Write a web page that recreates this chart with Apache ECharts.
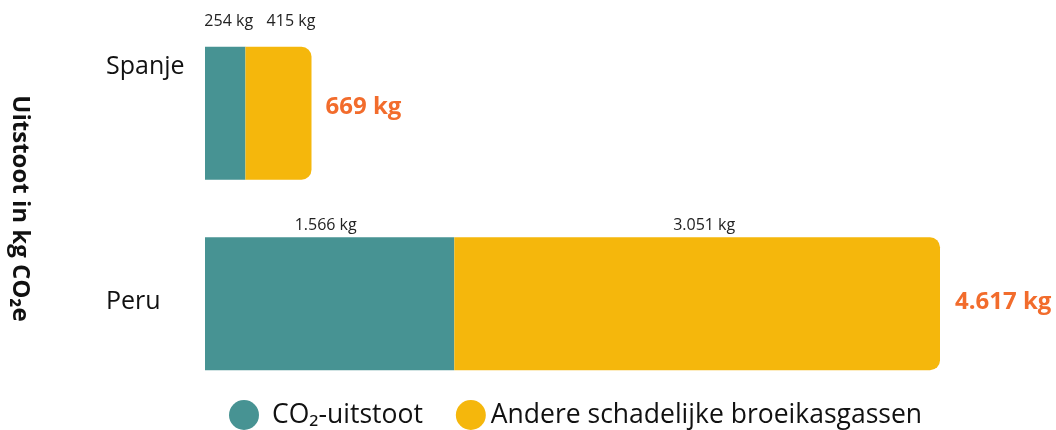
<!DOCTYPE html>
<html>
<head>
<meta charset="utf-8">
<script src="https://cdn.jsdelivr.net/npm/echarts@6/dist/echarts.min.js"></script>
<style>html,body{margin:0;padding:0;background:#fff;}#c{width:1056px;height:430px;}</style>
</head>
<body>
<div id="c"></div>
<script>
const categories = ['Spanje', 'Peru'];
const co2Values = [254, 1566];
const otherValues = [415, 3051];
const totals = [669, 4617];
const seriesNames = ['CO₂-uitstoot', 'Andere schadelijke broeikasgassen'];
const axisName = 'Uitstoot in kg CO₂e';

const fmt = v => v.toLocaleString('nl-NL') + ' kg';
const FONT = "'Open Sans', sans-serif";
const segOffsets = { co2: [[3.5, -12], [-4, 1]], other: [[12.5, -12], [7, 1]] };
const totalOffsets = [[0, -6], [1, -2]];

const chart = echarts.init(document.getElementById('c'));
chart.setOption({
  animation: false,
  textStyle: { fontFamily: FONT },
  grid: { left: 205, right: 116, top: 18, height: 381, containLabel: false, outerBoundsMode: 'none' },
  xAxis: { type: 'value', min: 0, max: Math.max(...totals), show: false },
  yAxis: {
    type: 'category', data: categories, inverse: true,
    axisLine: { show: false }, axisTick: { show: false },
    axisLabel: {
      align: 'left', margin: 99, fontSize: 25, color: '#111', fontFamily: FONT,
      formatter: v => v === categories[0] ? '{up|' + v + '}' : '{n|' + v + '}',
      rich: {
        up: { fontSize: 25, color: '#111', fontFamily: FONT, padding: [0, 0, 92, 0] },
        n: { fontSize: 25, color: '#111', fontFamily: FONT, padding: [0, 0, 4, 0] }
      }
    },
    name: axisName, nameLocation: 'middle', nameGap: 173, nameRotate: -90,
    nameTextStyle: { fontSize: 24, fontWeight: 'bold', color: '#111', fontFamily: FONT }
  },
  legend: {
    left: 229, top: 400, padding: 0, itemWidth: 30, itemHeight: 30, itemGap: 33,
    icon: 'circle',
    textStyle: { fontSize: 26.5, color: '#111', fontFamily: FONT },
    data: [
      { name: seriesNames[0], textStyle: { padding: [0, 0, 0, 8] } },
      { name: seriesNames[1] }
    ]
  },
  series: [
    {
      name: seriesNames[0], type: 'bar', stack: 'a', barWidth: 133,
      itemStyle: { color: '#479393' },
      data: co2Values.map((v, i) => ({ value: v, label: { offset: segOffsets.co2[i] } })),
      label: { show: true, position: 'top', fontSize: 16, color: '#222', fontFamily: FONT, formatter: p => fmt(p.value) }
    },
    {
      name: seriesNames[1], type: 'bar', stack: 'a', barWidth: 133,
      itemStyle: { color: '#f5b70c', borderRadius: [0, 10, 10, 0] },
      data: otherValues.map((v, i) => ({ value: v, label: { offset: segOffsets.other[i] } })),
      label: { show: true, position: 'top', fontSize: 16, color: '#222', fontFamily: FONT, formatter: p => fmt(p.value) }
    },
    {
      name: 'totaal', type: 'bar', barWidth: 133, barGap: '-100%', silent: true,
      itemStyle: { color: 'rgba(0,0,0,0)' },
      data: totals.map((v, i) => ({ value: v, label: { offset: totalOffsets[i] } })),
      label: { show: true, position: 'right', distance: 14, fontSize: 24, fontWeight: 'bold', color: '#f26c2c', fontFamily: FONT, formatter: p => fmt(p.value) },
      z: 1
    }
  ]
});
</script>
</body>
</html>
